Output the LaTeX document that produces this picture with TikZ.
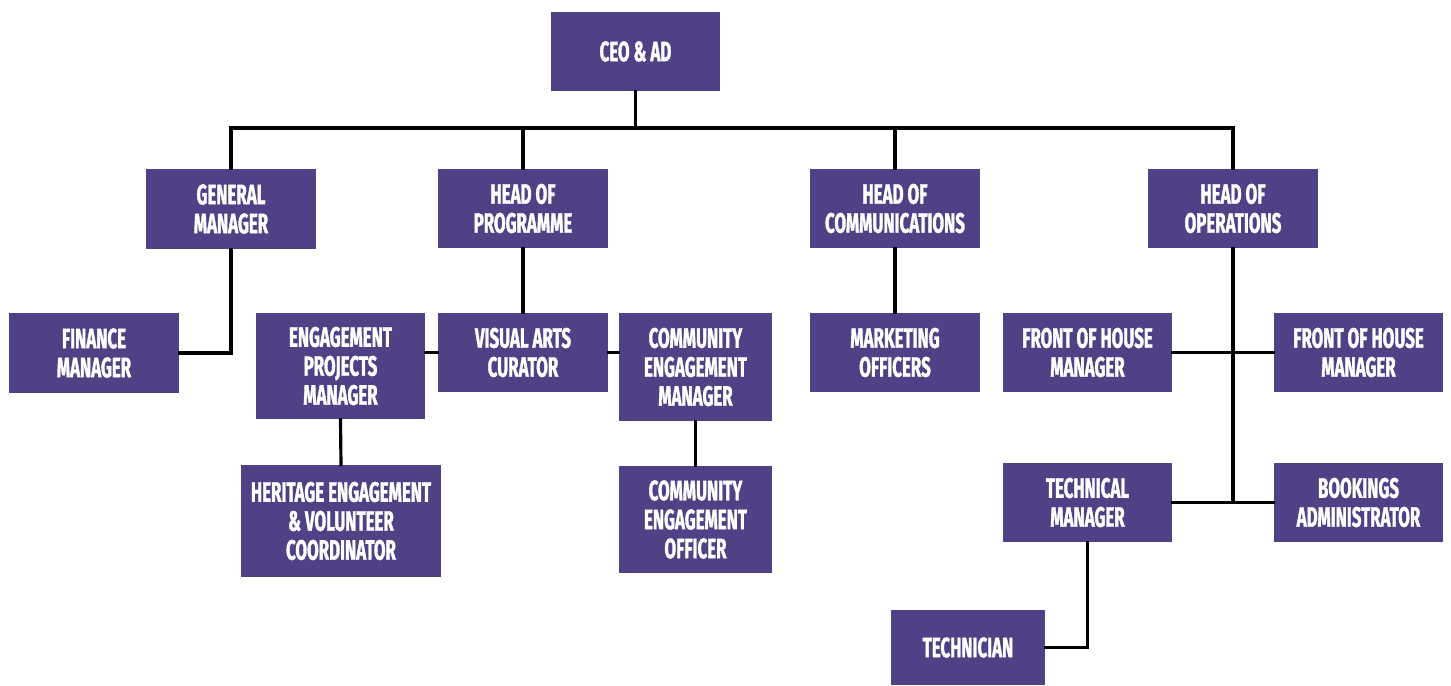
\documentclass[tikz,border=0pt]{standalone}
\usepackage{fontspec}
\newfontfamily\boxfont{Fira Sans}[FakeStretch=0.6,FakeBold=1.2]
\usetikzlibrary{calc,positioning}
\definecolor{boxpurple}{RGB}{80,65,134}
\tikzset {box/.style={fill=boxpurple,text=white,align=center,inner sep=0pt,
  font=\boxfont\bfseries\fontsize{16}{16.5}\selectfont,
  minimum width=3.4cm,minimum height=1.6cm},
  link/.style={line width=1.8pt,line cap=rect}}

\begin{document}
\begin{tikzpicture}[x=0.02cm,y=-0.02cm]
\useasboundingbox (0,0) rectangle (1451,686);
\node[box,minimum width=3.38cm,minimum height=1.58cm] (ceo) at (635.5,51.5) {CEO \& AD};
\node[box] (gm) at (231,209) {GENERAL\\MANAGER};
\node[box] (hop) at (523,208.5) {HEAD OF\\PROGRAMME};
\node[box] (hoc) at (895,208.5) {HEAD OF\\COMMUNICATIONS};
\node[box] (hoo) at (1233,208.5) {HEAD OF\\OPERATIONS};
\node[box] (fin) at (94,353) {FINANCE\\MANAGER};
\node[box,minimum height=2.14cm] (epm) at (340.5,366) {ENGAGEMENT\\PROJECTS\\MANAGER};
\node[box] (vac) at (523,352.5) {VISUAL ARTS\\CURATOR};
\node[box,minimum width=3.06cm,minimum height=2.16cm] (cem) at (695.5,367) {COMMUNITY\\ENGAGEMENT\\MANAGER};
\node[box,minimum width=4cm,minimum height=2.24cm] (hev) at (341,521) {HERITAGE ENGAGEMENT\\\& VOLUNTEER\\COORDINATOR};
\node[box,minimum width=3.06cm,minimum height=2.14cm] (ceoff) at (695.5,519.5) {COMMUNITY\\ENGAGEMENT\\OFFICER};
\node[box] (mko) at (895,352.5) {MARKETING\\OFFICERS};
\node[box] (fohl) at (1087.5,352.5) {FRONT OF HOUSE\\MANAGER};
\node[box] (fohr) at (1358.5,352.5) {FRONT OF HOUSE\\MANAGER};
\node[box] (tm) at (1087.5,502.5) {TECHNICAL\\MANAGER};
\node[box] (bka) at (1358.5,502.5) {BOOKINGS\\ADMINISTRATOR};
\node[box,minimum width=3.1cm,minimum height=1.5cm] (tech) at (968,647.5) {TECHNICIAN};
\coordinate (bus) at (635.5,128);
\coordinate (opsend) at (hoo.south |- tm.east);
\draw[link] (ceo.south) -- (bus);
\draw[link] (gm.north) |- (bus) -| (hoo.north);
\draw[link] (hop.north) -- (hop.north |- bus);
\draw[link] (hoc.north) -- (hoc.north |- bus);
\draw[link] (gm.south) |- (fin.east);
\draw[link] (hop.south) -- (vac.north);
\draw[link] (vac.west) -- (vac.west -| epm.east);
\draw[link] (vac.east) -- (vac.east -| cem.west);
\draw[link] (epm.south) -- (hev.north);
\draw[link] (cem.south) -- (ceoff.north);
\draw[link] (hoc.south) -- (mko.north);
\draw[link] (hoo.south) -- (opsend);
\draw[link] (fohl.east) -- (fohr.west);
\draw[link] (tm.east) -- (bka.west);
\draw[link] (tm.south) |- (tech.east);
\end{tikzpicture}
\end{document}
